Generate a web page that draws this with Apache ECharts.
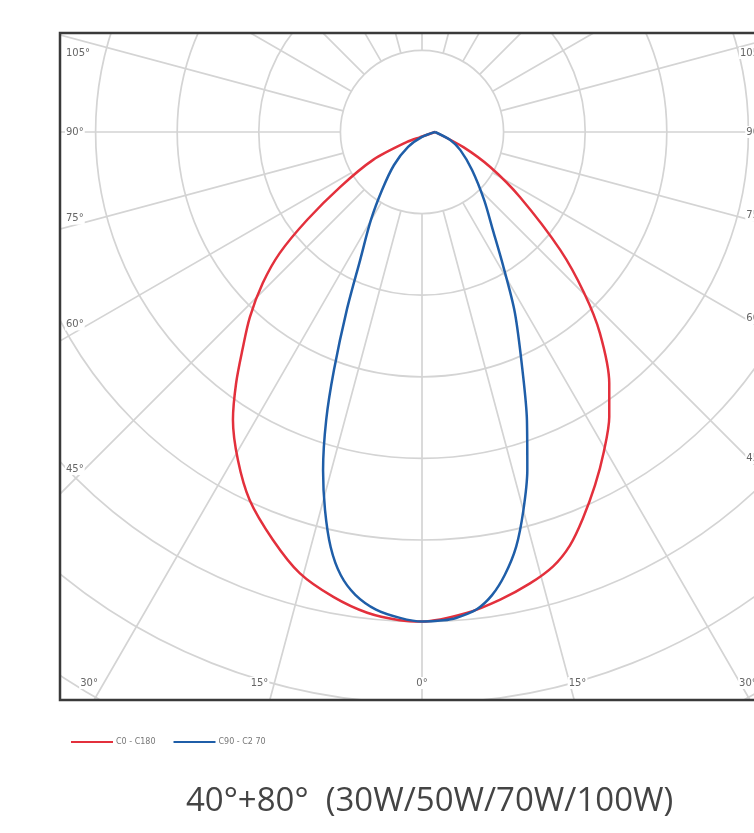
<!DOCTYPE html>
<html>
<head>
<meta charset="utf-8">
<script src="https://cdn.jsdelivr.net/npm/echarts@6/dist/echarts.min.js"></script>
<style>
  html, body { margin: 0; padding: 0; background: #fff; }
  #chart { width: 754px; height: 833px; }
</style>
</head>
<body>
<div id="chart"></div>
<script>
// ---------------- data ----------------
const seriesNames = ['C0 - C180', 'C90 - C2 70'];
const titleText = '40°+80°  (30W/50W/70W/100W)';

// C0-C180: angle (deg from nadir, left side negative) and intensity
const redAngles = [90, -21.8, -56.3, -60.3, -56.1, -52.6, -49.6, -46.5, -42.9, -39.5, -36.5, -33.3, -29.3, -25.1, -20.1, -15.5, -10.8, -6.5, -2.6, 0,
  5.3, 9.5, 13.4, 16.8, 19.7, 22.6, 26.1, 29.6, 33.3, 36.7, 41.5, 45.2, 49.5, 56.4, 62.8, 69.9, 90];
const redValues = [16, 7, 22, 69, 121, 177, 229, 269, 310, 346, 383, 422, 461, 498, 532, 561, 580, 593, 599, 600,
  592, 581, 569, 556, 538, 513, 482, 451, 418, 384, 329, 280, 223, 144, 94, 54, 16];

// C90-C270
const blueAngles = [90, 0, -43, -40.3, -34.6, -30.1, -25.8, -22.9, -20.3, -18.4, -16.3, -14.4, -12.4, -10.4, -8.2, -5.5, -2.6, 0,
  2.5, 4.0, 6.5, 8.6, 10.6, 12.8, 15.0, 17.3, 20.0, 22.7, 27.2, 31.3, 35.9, 42.4, 52.8, 64.7, 74.1, 90];
const blueValues = [16, 6, 25, 53, 86, 125, 174, 237, 311, 372, 432, 478, 521, 552, 573, 588, 596, 600,
  599, 597, 589, 574, 552, 521, 480, 434, 376, 320, 249, 191, 148, 113, 77, 52, 36, 16];

// tick labels (angle from nadir)
const sideTickAngles = [105, 90, 75, 60, 45];
const bottomTickAngles = [-30, -15, 0, 15, 30];

// radius scale
const radiusMin = 100, radiusMax = 900, radiusStep = 100;

// ---------------- layout ----------------
const CX = 422, CY = 132;          // polar centre (px)
const UNIT = 81.6;                 // px per radiusStep
const BOX = { l: 60, t: 33, r: 770, b: 700 };
const W = 754, H = 833;

const chart = echarts.init(document.getElementById('chart'), null, { renderer: 'canvas' });

const toRad = d => d * Math.PI / 180;
const graphics = [];
// white covers outside the frame
graphics.push({ type: 'rect', z: 10, silent: true, shape: { x: 0, y: 0, width: W, height: BOX.t }, style: { fill: '#fff' } });
graphics.push({ type: 'rect', z: 10, silent: true, shape: { x: 0, y: 0, width: BOX.l, height: H }, style: { fill: '#fff' } });
graphics.push({ type: 'rect', z: 10, silent: true, shape: { x: 0, y: BOX.b, width: W, height: H - BOX.b }, style: { fill: '#fff' } });
graphics.push({ type: 'rect', z: 10, silent: true, shape: { x: BOX.r, y: 0, width: W, height: H }, style: { fill: '#fff' } });
// frame
graphics.push({ type: 'rect', z: 12, silent: true, shape: { x: BOX.l, y: BOX.t, width: BOX.r - BOX.l, height: BOX.b - BOX.t }, style: { fill: null, stroke: '#3a3a3a', lineWidth: 2.5 } });

const labelStyle = { fill: '#666', fontSize: 10, fontFamily: 'DejaVu Sans', backgroundColor: '#fff', padding: [1, 1] };
// side labels, placed where each ray meets the frame
sideTickAngles.forEach(a => {
  [-1, 1].forEach(side => {
    const lx = side < 0 ? BOX.l + 20 : BOX.r - 17;
    const dx = lx - CX;
    const th = toRad(a * side);
    const t = dx / Math.sin(th);
    let y = CY + t * Math.cos(th);
    const va = a >= 90 ? 'middle' : 'bottom';
    if (a > 90) y = Math.max(y, BOX.t + 20);
    if (a < 90) y = y + 1;
    graphics.push({
      type: 'text', z: 11, silent: true,
      x: side < 0 ? BOX.l + 5 : BOX.r - 5,
      y: y,
      style: Object.assign({}, labelStyle, {
        text: a + '°', align: side < 0 ? 'left' : 'right', verticalAlign: va
      })
    });
  });
});
// bottom labels
bottomTickAngles.forEach(a => {
  const ly = BOX.b - 17;
  const x = CX + (ly - CY) * Math.tan(toRad(a));
  let align = 'center', xx = x;
  if (a < 0) { align = 'right'; xx = x - 5; }
  if (a > 0) { align = 'left'; xx = x - 2; }
  graphics.push({
    type: 'text', z: 11, silent: true, x: xx, y: ly,
    style: Object.assign({}, labelStyle, { text: Math.abs(a) + '°', align: align, verticalAlign: 'middle' })
  });
});

const gridLine = { show: true, lineStyle: { color: '#d4d4d4', width: 1.7 } };
const hiddenAxis = { axisLine: { show: false }, axisTick: { show: false }, axisLabel: { show: false } };

const option = {
  backgroundColor: '#fff',
  animation: false,
  title: {
    text: titleText,
    left: 181, top: 780, z: 20,
    textStyle: { fontSize: 33, fontWeight: 'normal', color: '#444', fontFamily: 'Open Sans' }
  },
  legend: {
    data: seriesNames,
    left: 66, top: 733, z: 20,
    icon: 'rect', itemWidth: 42, itemHeight: 2,
    itemGap: 18,
    textStyle: { fontSize: 8, color: '#777', fontFamily: 'DejaVu Sans', padding: [0, 0, 0, -2] }
  },
  polar: [
    { center: [CX, CY], radius: [UNIT, UNIT * (radiusMax / radiusStep)] },
    { center: [CX, CY], radius: [0, UNIT * (radiusMax / radiusStep)] }
  ],
  angleAxis: [
    Object.assign({
      polarIndex: 0, type: 'value', min: -180, max: 180, interval: 15,
      startAngle: 90, clockwise: false, splitLine: gridLine, z: 0
    }, hiddenAxis),
    Object.assign({
      polarIndex: 1, type: 'value', min: -180, max: 180, interval: 15,
      startAngle: 90, clockwise: false, splitLine: { show: false }
    }, hiddenAxis)
  ],
  radiusAxis: [
    Object.assign({
      polarIndex: 0, type: 'value', min: radiusMin, max: radiusMax, interval: radiusStep,
      splitLine: gridLine, z: 0
    }, hiddenAxis),
    Object.assign({
      polarIndex: 1, type: 'value', min: 0, max: radiusMax, splitLine: { show: false }
    }, hiddenAxis)
  ],
  graphic: graphics,
  series: [
    {
      name: seriesNames[0], type: 'line', coordinateSystem: 'polar', polarIndex: 1,
      data: redAngles.map((a, i) => [redValues[i], a]),
      showSymbol: false, symbol: 'none', smooth: 0.3, z: 3,
      lineStyle: { color: '#e3303c', width: 2.5 }, itemStyle: { color: '#e3303c' }
    },
    {
      name: seriesNames[1], type: 'line', coordinateSystem: 'polar', polarIndex: 1,
      data: blueAngles.map((a, i) => [blueValues[i], a]),
      showSymbol: false, symbol: 'none', smooth: 0.3, z: 4,
      lineStyle: { color: '#1f5ea8', width: 2.5 }, itemStyle: { color: '#1f5ea8' }
    }
  ]
};
chart.setOption(option);
</script>
</body>
</html>
